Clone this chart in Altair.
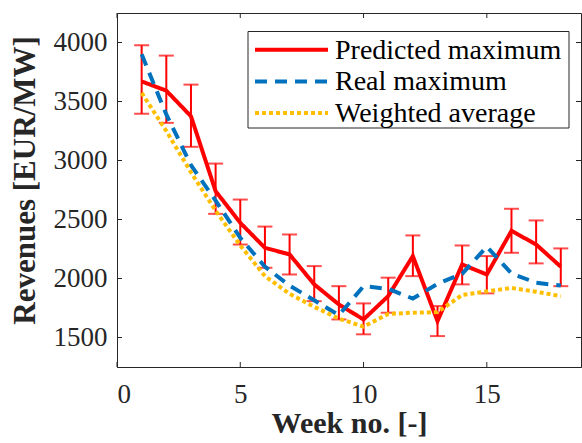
import altair as alt
import pandas as pd

# ---- data ----
weeks = list(range(1, 19))
predicted = [3670, 3592, 3375, 2740, 2472, 2260, 2204, 1950, 1780, 1653,
             1851, 2190, 1639, 2119, 2034, 2404, 2288, 2100]
pred_upper = [3976, 3889, 3643, 2974, 2669, 2440, 2373, 2105, 1935, 1789,
              2007, 2365, 1766, 2280, 2190, 2591, 2492, 2255]
pred_lower = [3397, 3319, 3116, 2548, 2288, 2091, 2034, 1808, 1653, 1527,
              1710, 2020, 1512, 1950, 1874, 2218, 2128, 1935]
real_max = [3900, 3390, 2960, 2660, 2345, 2100, 1940, 1815, 1690, 1935,
            1912, 1830, 1955, 2040, 2270, 2043, 1964, 1940]
weighted = [3573, 3250, 2900, 2575, 2280, 2020, 1870, 1760, 1660, 1592,
            1700, 1710, 1715, 1860, 1890, 1920, 1888, 1850]

series_names = ["Predicted maximum", "Real maximum", "Weighted average"]
series_colors = ["#FF0000", "#0072BD", "#FFBF00"]
series_dashes = [[1, 0], [12, 8], [4, 3]]
x_ticks = [0, 5, 10, 15]
y_ticks = [1500, 2000, 2500, 3000, 3500, 4000]
x_domain = [0, 18.82]
y_domain = [1250, 4250]

# ---- tables ----
lines_df = pd.DataFrame({
    "week": weeks * 3,
    "value": predicted + real_max + weighted,
    "series": [series_names[0]] * 18 + [series_names[1]] * 18 + [series_names[2]] * 18,
})
err_df = pd.DataFrame({"week": weeks, "lo": pred_lower, "hi": pred_upper})
xt_df = pd.DataFrame({"week": x_ticks})
yt_df = pd.DataFrame({"value": y_ticks})

W, H = 464, 354
FONT = "Liberation Serif"
AX = "#262626"

xs = alt.Scale(domain=x_domain, nice=False, zero=False)
ys = alt.Scale(domain=y_domain, nice=False, zero=False)

x_axis = alt.Axis(values=x_ticks, title="Week no. [-]", ticks=False, grid=False,
                  labelPadding=14, titleBaseline="alphabetic", titleY=65, titleFontSize=30)
y_axis = alt.Axis(values=y_ticks, format="d", title="Revenues [EUR/MW]", ticks=False,
                  grid=False, labelPadding=10, titleBaseline="alphabetic",
                  titleX=-83, titleY=167)


def X(field):
    return alt.X(field, scale=xs, axis=x_axis)


def Y(field):
    return alt.Y(field, scale=ys, axis=y_axis)


err_bar = alt.Chart(err_df).mark_rule(color="#FF0000", strokeWidth=2).encode(
    x=X("week:Q"), y=Y("lo:Q"), y2="hi:Q")
cap_hi = alt.Chart(err_df).mark_tick(color="#FF0000", orient="horizontal", size=15,
                                     thickness=2).encode(x=X("week:Q"), y=Y("hi:Q"))
cap_lo = alt.Chart(err_df).mark_tick(color="#FF0000", orient="horizontal", size=15,
                                     thickness=2).encode(x=X("week:Q"), y=Y("lo:Q"))


def line_layer(i):
    return alt.Chart(lines_df).transform_filter(
        alt.datum.series == series_names[i]).mark_line(
        strokeWidth=4, strokeCap="butt", color=series_colors[i],
        strokeDash=series_dashes[i]).encode(x=X("week:Q"), y=Y("value:Q"))


tick_style = dict(color=AX, strokeWidth=1)
yt_left = alt.Chart(yt_df).mark_rule(**tick_style).encode(
    y=Y("value:Q"), x=alt.value(0), x2=alt.value(5))
yt_right = alt.Chart(yt_df).mark_rule(**tick_style).encode(
    y=Y("value:Q"), x=alt.value(W - 5), x2=alt.value(W))
xt_bottom = alt.Chart(xt_df).mark_rule(**tick_style).encode(
    x=X("week:Q"), y=alt.value(H - 5), y2=alt.value(H))
xt_top = alt.Chart(xt_df).mark_rule(**tick_style).encode(
    x=X("week:Q"), y=alt.value(0), y2=alt.value(5))

# ---- legend (drawn by hand) ----
LX0, LX1, LY0, LY1 = 131, 452, 18.5, 115
ROW_Y = [36.7, 68.4, 100.0]
box = alt.Chart(pd.DataFrame({"k": [0]})).mark_rect(
    fill="white", stroke=AX, strokeWidth=1).encode(
    x=alt.value(LX0), x2=alt.value(LX1), y=alt.value(LY0), y2=alt.value(LY1))
legend_layers = [box]
for i, name in enumerate(series_names):
    ldf = pd.DataFrame({"label": [name]})
    legend_layers.append(alt.Chart(ldf).mark_rule(
        color=series_colors[i], strokeWidth=4, strokeDash=series_dashes[i],
        strokeCap="butt").encode(x=alt.value(138), x2=alt.value(211), y=alt.value(ROW_Y[i])))
    legend_layers.append(alt.Chart(ldf).mark_text(
        font=FONT, fontSize=28, color="#000000", align="left", baseline="middle").encode(
        x=alt.value(218), y=alt.value(ROW_Y[i] + 1), text="label:N"))

chart = alt.layer(
    err_bar, cap_hi, cap_lo,
    line_layer(0), line_layer(1), line_layer(2),
    yt_left, yt_right, xt_bottom, xt_top,
    *legend_layers,
).properties(
    width=W, height=H,
    autosize=alt.AutoSizeParams(type="none"),
    padding={"left": 117, "top": 13, "right": 1, "bottom": 76},
    background="white",
).configure_view(
    stroke=AX, strokeWidth=1,
).configure_axis(
    domainColor=AX, domainWidth=1, labelFont=FONT, labelFontSize=27, labelColor=AX,
    titleFont=FONT, titleFontSize=31, titleFontWeight="bold", titleColor=AX,
)

chart.save("out.html", embed_options={"renderer": "svg", "actions": False})
